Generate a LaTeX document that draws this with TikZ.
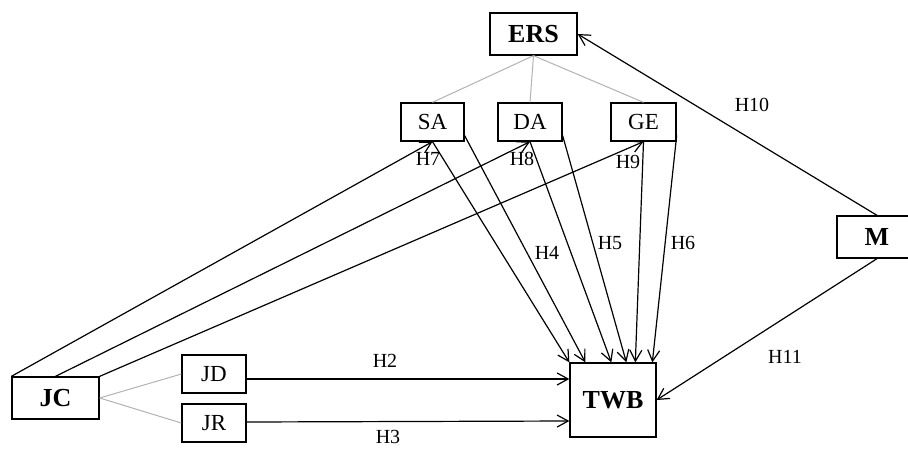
\documentclass[tikz,border=0pt]{standalone}
\usepackage{fontspec}
\setmainfont{Liberation Serif}
\usetikzlibrary{arrows.meta}
\begin{document}
\begin{tikzpicture}[x=1pt,y=-1pt,
  box/.style={draw, line width=1.3pt, inner sep=0pt, font=\fontsize{23}{25}\selectfont},
  bbox/.style={box, font=\fontsize{26}{28}\selectfont\bfseries},
  lbl/.style={font=\fontsize{20}{22}\selectfont, inner sep=0pt},
  arr/.style={line width=1.2pt, -{Straight Barb[length=11pt,width=12pt,line width=1.2pt]}},
  grayl/.style={draw=gray!60, line width=1pt}]
\useasboundingbox (0,0) rectangle (908,448);
% nodes
\node[bbox, minimum width=87pt, minimum height=42pt] (ERS) at (533.5,34) {ERS};
\node[box, minimum width=63pt, minimum height=38pt] (SA) at (432.5,122) {SA};
\node[box, minimum width=64pt, minimum height=38pt] (DA) at (530,122) {DA};
\node[box, minimum width=65pt, minimum height=38pt] (GE) at (643.5,122) {GE};
\node[bbox, minimum width=87pt, minimum height=42pt] (JC) at (55.5,398) {JC};
\node[box, minimum width=64pt, minimum height=38pt] (JD) at (214,374) {JD};
\node[box, minimum width=64pt, minimum height=38pt] (JR) at (214,423) {JR};
\node[bbox, minimum width=86pt, minimum height=74pt] (TWB) at (613,400) {TWB};
\node[bbox, minimum width=80pt, minimum height=42pt] (M) at (877,237) {M};
% helper coordinates
\coordinate (JDo) at ([yshift=-5pt]JD.east);
\coordinate (JRo) at ([yshift=1pt]JR.east);
\coordinate (JRi) at ([yshift=2pt]JR.east);
% gray links
\draw[grayl] (ERS.south) -- (SA.north);
\draw[grayl] (ERS.south) -- (DA.north);
\draw[grayl] (ERS.south) -- (GE.north);
\draw[grayl] (JC.east) -- (JD.west);
\draw[grayl] (JC.east) -- (JR.west);
% JC to mediators
\draw[arr] (JC.north west) -- (SA.south);
\draw[arr] (JC.north) -- (DA.south);
\draw[arr] (JC.north east) -- (GE.south);
% mediators to TWB
\draw[arr] (SA.south) -- (TWB.north west);
\draw[arr] ([yshift=6pt]SA.south east) -- ([xshift=16pt]TWB.north west);
\draw[arr] (DA.south) -- ([xshift=42pt]TWB.north west);
\draw[arr] ([yshift=6pt]DA.south east) -- ([xshift=57pt]TWB.north west);
\draw[arr] (GE.south) -- ([xshift=66pt]TWB.north west);
\draw[arr] ([yshift=6pt]GE.south east) -- ([xshift=83pt]TWB.north west);
% JD, JR to TWB
\draw[arr] (JDo) -- (TWB.west |- JDo);
\draw[arr] (JRo) -- (TWB.west |- JRi);
% M links
\draw[arr] (M.north) -- (ERS.east);
\draw[arr] (M.south) -- (TWB.east);
% labels
\node[lbl] (H7) at (428,159) {H7};
\node[lbl] (H8) at (522,159) {H8};
\node[lbl] (H9) at (628,162) {H9};
\node[lbl] (H4) at (547,253) {H4};
\node[lbl] (H5) at (610,243) {H5};
\node[lbl] (H6) at (683,243) {H6};
\node[lbl] (H10) at (752,105) {H10};
\node[lbl] (H2) at (385,361) {H2};
\node[lbl] (H3) at (388,437) {H3};
\node[lbl] (H11) at (785,357) {H11};
\end{tikzpicture}
\end{document}
